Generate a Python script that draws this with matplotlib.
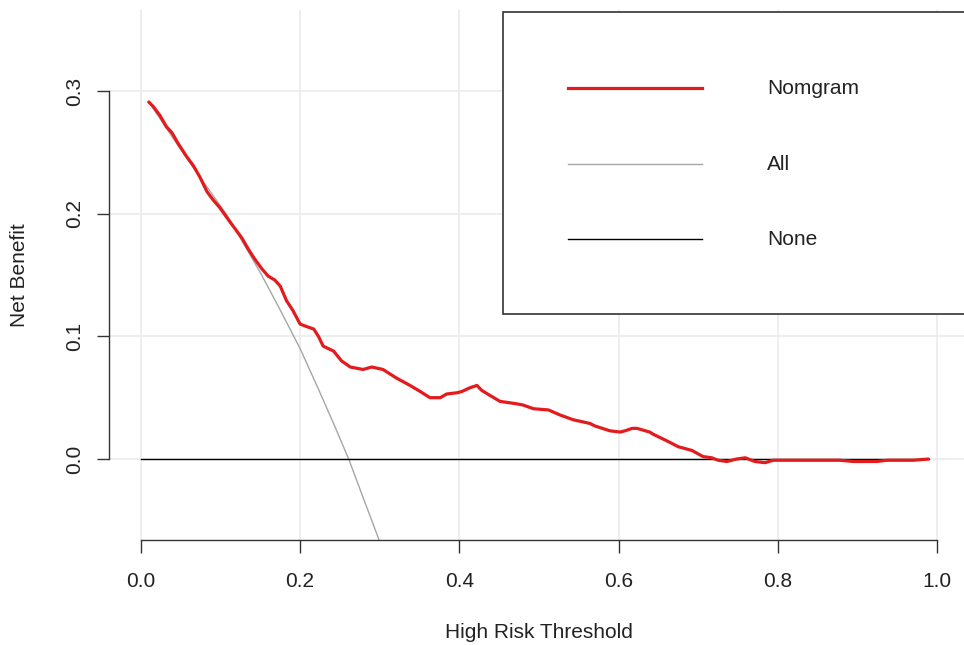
import matplotlib
matplotlib.use('Agg')
import matplotlib.pyplot as plt
from matplotlib.patches import Rectangle
from matplotlib.lines import Line2D

plt.rcParams['font.family'] = ['Liberation Sans', 'DejaVu Sans']

# Curva do nomograma (limiar, benefício líquido)
limiar_nomo = [0.010, 0.016, 0.024, 0.032, 0.039, 0.047, 0.057, 0.066, 0.074, 0.083,
               0.091, 0.099, 0.110, 0.118, 0.127, 0.135, 0.143, 0.152, 0.160, 0.168,
               0.175, 0.183, 0.191, 0.200, 0.208, 0.217, 0.223, 0.229, 0.242, 0.252,
               0.263, 0.279, 0.290, 0.304, 0.321, 0.338, 0.351, 0.363, 0.376, 0.384,
               0.397, 0.403, 0.413, 0.422, 0.428, 0.438, 0.451, 0.472, 0.480, 0.493,
               0.512, 0.526, 0.543, 0.564, 0.570, 0.589, 0.602, 0.608, 0.617, 0.623,
               0.639, 0.644, 0.660, 0.675, 0.692, 0.706, 0.717, 0.725, 0.736, 0.748,
               0.759, 0.771, 0.784, 0.794, 0.803, 0.878, 0.895, 0.924, 0.937, 0.970,
               0.989]
nb_nomo = [0.291, 0.287, 0.280, 0.271, 0.266, 0.257, 0.247, 0.239, 0.230, 0.218,
           0.211, 0.205, 0.195, 0.188, 0.180, 0.171, 0.163, 0.155, 0.149, 0.146,
           0.141, 0.129, 0.121, 0.110, 0.108, 0.106, 0.100, 0.092, 0.088, 0.080,
           0.075, 0.073, 0.075, 0.073, 0.066, 0.060, 0.055, 0.050, 0.050, 0.053,
           0.054, 0.055, 0.058, 0.060, 0.056, 0.052, 0.047, 0.045, 0.044, 0.041,
           0.040, 0.036, 0.032, 0.029, 0.027, 0.023, 0.022, 0.023, 0.025, 0.025,
           0.022, 0.020, 0.015, 0.010, 0.007, 0.002, 0.001, -0.001, -0.002, 0.000,
           0.001, -0.002, -0.003, -0.001, -0.001, -0.001, -0.002, -0.002, -0.001, -0.001,
           0.000]

# Estratégia "All" (tratar todos)
limiar_all = [0.010, 0.043, 0.074, 0.108, 0.150, 0.173, 0.200, 0.223, 0.242, 0.261, 0.298, 0.310]
nb_all = [0.291, 0.259, 0.230, 0.199, 0.152, 0.124, 0.090, 0.057, 0.029, 0.000, -0.064, -0.085]

# Estratégia "None" (tratar nenhum)
limiar_none = [0.0, 0.99]
nb_none = [0.0, 0.0]

legenda = ['Nomgram', 'All', 'None']
cores = ['#E41A1C', '#A6A6A6', '#000000']
larguras = [2.3, 1.0, 1.0]

fig = plt.figure(figsize=(9.64, 6.45), dpi=100)
ax = fig.add_axes([109 / 964, 105 / 645, 860 / 964, 530 / 645])

ax.plot(limiar_all, nb_all, color=cores[1], linewidth=larguras[1], zorder=2,
        solid_joinstyle='round')
ax.plot(limiar_none, nb_none, color=cores[2], linewidth=larguras[2], zorder=3)
ax.plot(limiar_nomo, nb_nomo, color=cores[0], linewidth=larguras[0], zorder=4,
        solid_joinstyle='round', solid_capstyle='round')

ax.set_xlim(-0.04, 1.04)
ax.set_ylim(-0.066, 0.366)
ax.set_xticks([0.0, 0.2, 0.4, 0.6, 0.8, 1.0])
ax.set_xticklabels(['0.0', '0.2', '0.4', '0.6', '0.8', '1.0'])
ax.set_yticks([0.0, 0.1, 0.2, 0.3])
ax.set_yticklabels(['0.0', '0.1', '0.2', '0.3'], rotation=90, va='center')

ax.grid(True, color='#EBEBEB', linewidth=1.2)
ax.set_axisbelow(True)

for lado in ['top', 'right']:
    ax.spines[lado].set_visible(False)
ax.spines['left'].set_bounds(0.0, 0.3)
ax.spines['bottom'].set_bounds(0.0, 1.0)
for lado in ['left', 'bottom']:
    ax.spines[lado].set_color('#333333')
    ax.spines[lado].set_linewidth(1.0)

ax.tick_params(axis='x', length=9, width=1.0, color='#333333', pad=14, labelsize=15, labelcolor='#222222')
ax.tick_params(axis='y', length=9, width=1.0, color='#333333', pad=9, labelsize=15, labelcolor='#222222')

ax.set_xlabel('High Risk Threshold', fontsize=15, color='#222222')
ax.xaxis.set_label_coords(0.5, (540 - 632) / 530)
ax.xaxis.label.set_va('center')
ax.set_ylabel('Net Benefit', fontsize=15, color='#222222')
ax.yaxis.set_label_coords((20 - 109) / 860, 0.5)
ax.yaxis.label.set_va('center')

# Legenda desenhada à mão, como no gráfico do R
caixa = Rectangle((0.458, 0.4264), 0.6, 0.5698, transform=ax.transAxes, fill=True,
                  facecolor='white', edgecolor='#333333', linewidth=1.2, zorder=5, clip_on=False)
ax.add_patch(caixa)
linhas_y = [0.8528, 0.7094, 0.5679]
for nome, cor, lw, yy in zip(legenda, cores, larguras, linhas_y):
    ax.add_line(Line2D([0.5337, 0.6895], [yy, yy], transform=ax.transAxes, color=cor,
                       linewidth=lw, zorder=6, clip_on=False))
    ax.text(0.7651, yy, nome, transform=ax.transAxes, fontsize=15, va='center', ha='left',
            color='#222222', zorder=6)

plt.savefig('out.png', dpi=100)
plt.close()
